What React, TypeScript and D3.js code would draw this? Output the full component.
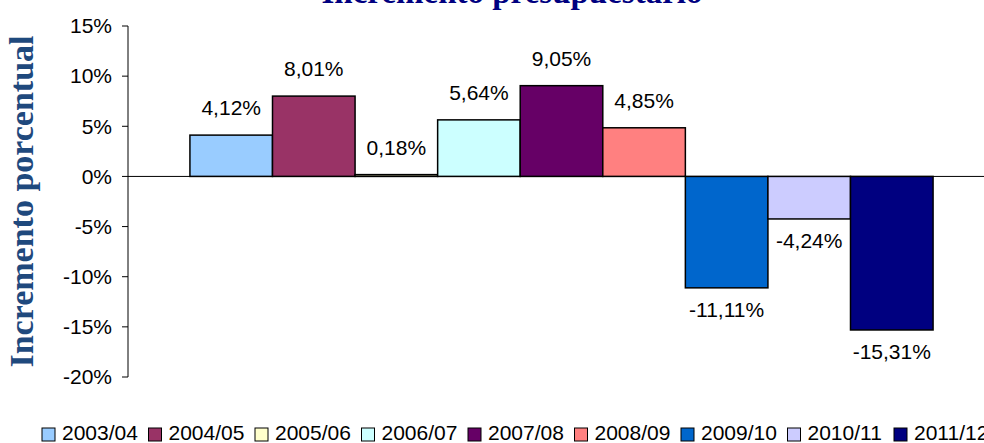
import React from 'react';
import * as d3 from 'd3';

const seasons = ['2003/04', '2004/05', '2005/06', '2006/07', '2007/08', '2008/09', '2009/10', '2010/11', '2011/12'];
const increments = [4.12, 8.01, 0.18, 5.64, 9.05, 4.85, -11.11, -4.24, -15.31];
const colors = ['#99CCFF', '#993366', '#FFFFCC', '#CCFFFF', '#660066', '#FF8080', '#0066CC', '#CCCCFF', '#000080'];
const yTicks = [-20, -15, -10, -5, 0, 5, 10, 15];

const width = 984;
const height = 443;
const sans = '"Liberation Sans", Arial, sans-serif';
const serif = '"Liberation Serif", "Times New Roman", serif';

const fmt = (v: number) => v.toFixed(2).replace('.', ',') + '%';

const App = () => {
  const plot = { left: 128, right: 995, top: 26, bottom: 377 };

  const x = d3.scaleBand<string>()
    .domain(seasons)
    .range([plot.left, plot.right])
    .paddingInner(0)
    .paddingOuter(0.75);

  const y = d3.scaleLinear()
    .domain([-20, 15])
    .range([plot.bottom, plot.top]);

  const legendStep = 106.5;

  return (
    <svg
      width={width}
      height={height}
      style={{ position: 'absolute', left: 0, top: 0, display: 'block', background: '#fff' }}
    >
      {/* title, clipped by the top edge like in the original */}
      <text x={512} y={3} textAnchor="middle" fontFamily={serif} fontWeight="bold" fontSize={33} fill="#000080">
        Incremento presupuestario
      </text>

      <text
        transform={`translate(33,${y(-2.5)}) rotate(-90)`}
        textAnchor="middle"
        fontFamily={serif}
        fontWeight="bold"
        fontSize={34}
        fill="#1F497D"
      >
        Incremento porcentual
      </text>

      {/* y axis */}
      <line x1={plot.left} x2={plot.left} y1={y(15)} y2={y(-20)} stroke="#000" strokeWidth={1} />
      {yTicks.map(t => (
        <g key={t}>
          <line x1={plot.left - 6} x2={plot.left} y1={y(t)} y2={y(t)} stroke="#000" strokeWidth={1} />
          <text x={plot.left - 16} y={y(t)} dy="0.35em" textAnchor="end" fontFamily={sans} fontSize={21} fill="#000">
            {t}%
          </text>
        </g>
      ))}

      {/* bars */}
      {seasons.map((s, i) => {
        const v = increments[i];
        const y0 = y(Math.max(0, v));
        const h = Math.abs(y(v) - y(0));
        return (
          <rect key={s} x={x(s)} y={y0} width={x.bandwidth()} height={h} fill={colors[i]} stroke="#000" strokeWidth={1.5} />
        );
      })}

      {/* zero line */}
      <line x1={plot.left} x2={plot.right} y1={y(0)} y2={y(0)} stroke="#000" strokeWidth={1} />

      {/* data labels */}
      {seasons.map((s, i) => {
        const v = increments[i];
        const cx = (x(s) as number) + x.bandwidth() / 2;
        const ly = v >= 0 ? y(v) - 20 : y(v) + 29;
        return (
          <text key={s} x={cx} y={ly} textAnchor="middle" fontFamily={sans} fontSize={21} fill="#000">
            {fmt(v)}
          </text>
        );
      })}

      {/* legend */}
      {seasons.map((s, i) => {
        const lx = 42 + i * legendStep;
        return (
          <g key={s}>
            <rect x={lx} y={428} width={13} height={13} fill={colors[i]} stroke="#000" strokeWidth={1} />
            <text x={lx + 20} y={440} fontFamily={sans} fontSize={21} fill="#000">
              {s}
            </text>
          </g>
        );
      })}
    </svg>
  );
};

export default App;
